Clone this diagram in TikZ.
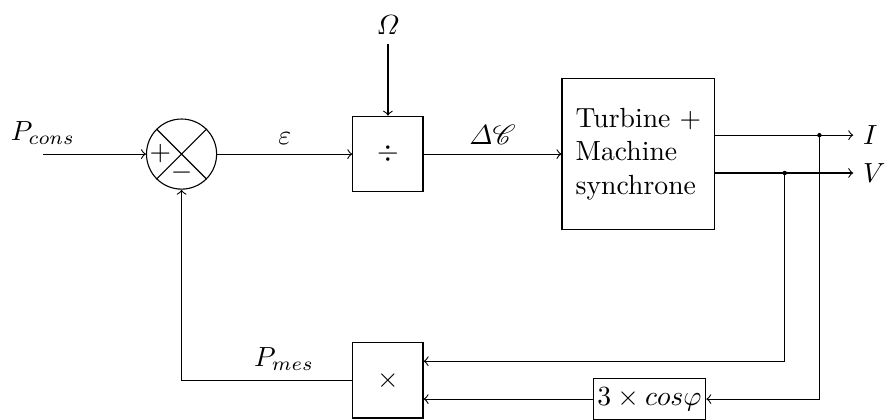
\documentclass[tikz,border=0pt]{standalone}
\usepackage{amsmath}
\usepackage{mathrsfs}
\usetikzlibrary{positioning, arrows, shapes}

\begin{document}
\begin{tikzpicture}[auto, on grid, block/.style={draw, minimum width=0.89cm, minimum height=0.96cm}, sum/.style={circle, draw, minimum size=0.89cm}]
      \useasboundingbox (-2.305,1.956) rectangle (8.93,-3.365);
      \node[sum] (sum) at (0,0) {};
      \node[block, right=2.62cm of sum] (div) {$\div$};
      \node[block, right=3.18cm of div, align=left, minimum width=1.94cm, minimum height=1.92cm] (sys) {Turbine +\\Machine\\synchrone};
      \node[block, below=2.87cm of div] (mult) {$\times$};
      \node[draw, inner xsep=1.5pt, minimum height=0.48cm, below right=0.24cm and 3.32cm of mult] (cos) {$3\times cos\varphi$};
      \node[above=1.64cm of div] (omega) {$\varOmega$};
      \node at ([xshift=-0.27cm]sum.center) (plus) {$+$};
      \node at ([yshift=-0.23cm]sum.center) (minus) {$-$};
      \coordinate[left=1.76cm of sum] (in);
      \coordinate (sysI) at ([yshift=0.24cm]sys.east);
      \coordinate (sysV) at ([yshift=-0.24cm]sys.east);
      \coordinate[right=1.32cm of sysI] (brI);
      \coordinate[right=0.88cm of sysV] (brV);
      \coordinate[right=1.75cm of sysI] (endI);
      \coordinate[right=1.75cm of sysV] (endV);
      \coordinate (multV) at ([yshift=0.24cm]mult.east);
      \coordinate (multI) at ([yshift=-0.24cm]mult.east);
      \node[anchor=west] at (endI) (outI) {$I$};
      \node[anchor=west] at (endV) (outV) {$V$};

      \draw (sum.north west) -- (sum.south east) (sum.north east) -- (sum.south west);
      \draw[->] (in) node[above] (lblcons) {$P_{cons}$} -- (sum);
      \draw[->] (sum) -- node[above] (lbleps) {$\varepsilon$} (div);
      \draw[->] (omega) -- (div);
      \draw[->] (div) -- node[above] (lbldc) {$\varDelta\mathscr{C}$} (sys);
      \draw[->] (sysI) -- (outI);
      \draw[->] (sysV) -- (outV);
      \fill (brI) circle (0.8pt) (brV) circle (0.8pt);
      \draw[->] (brV) |- (multV);
      \draw[->] (brI) |- (cos);
      \draw[->] (cos) -- (multI);
      \draw[->] (mult) -| node[above, pos=0.2] (lblmes) {$P_{mes}$} (sum);
    \end{tikzpicture}
\end{document}
